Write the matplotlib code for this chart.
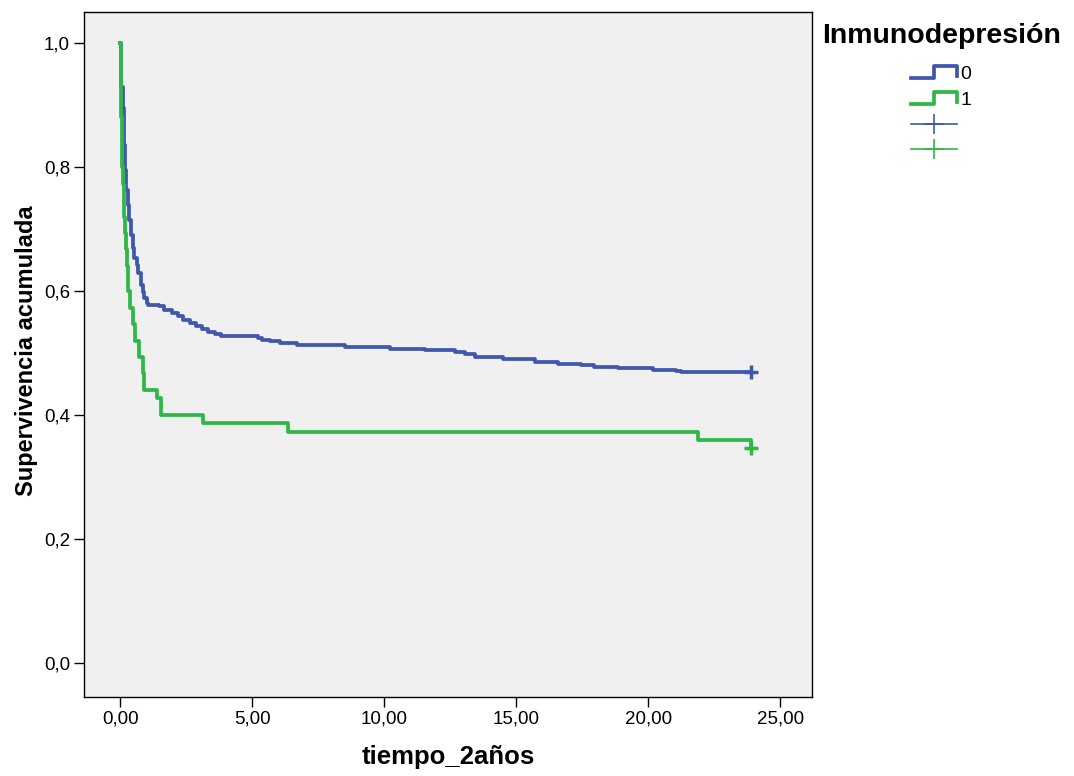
import matplotlib
matplotlib.use('Agg')
import matplotlib.pyplot as plt
from matplotlib.legend_handler import HandlerBase
from matplotlib.lines import Line2D

# Kaplan-Meier estimates (time, cumulative survival)
blue_t = [0, 0.04, 0.08, 0.13, 0.17, 0.23, 0.28, 0.34, 0.40, 0.46, 0.53, 0.61, 0.68,
          0.78, 0.84, 0.91, 0.99, 1.06, 1.48, 1.67, 1.94, 2.17, 2.39, 2.62, 2.85,
          3.08, 3.31, 3.57, 3.80, 5.20, 5.36, 5.66, 6.04, 6.69, 8.51, 10.22, 11.55,
          12.69, 13.07, 13.45, 14.51, 15.73, 16.57, 17.44, 17.93, 18.85, 20.17,
          21.05, 21.24, 23.9]
blue_s = [1.0, 0.929, 0.895, 0.835, 0.795, 0.763, 0.739, 0.715, 0.690, 0.669, 0.653,
          0.642, 0.629, 0.610, 0.598, 0.589, 0.581, 0.577, 0.575, 0.569, 0.565, 0.560,
          0.553, 0.548, 0.544, 0.539, 0.534, 0.531, 0.527, 0.524, 0.521, 0.519, 0.516,
          0.513, 0.510, 0.507, 0.505, 0.502, 0.498, 0.494, 0.490, 0.485, 0.482, 0.481,
          0.477, 0.476, 0.473, 0.471, 0.469, 0.469]

green_t = [0, 0.01, 0.02, 0.03, 0.05, 0.07, 0.10, 0.12, 0.15, 0.17, 0.20, 0.24, 0.28,
           0.38, 0.46, 0.57, 0.72, 0.84, 0.91, 1.37, 1.52, 3.12, 6.35, 21.9, 23.9]
green_s = [1.0, 0.947, 0.92, 0.88, 0.84, 0.80, 0.773, 0.747, 0.72, 0.693, 0.667, 0.64,
           0.60, 0.573, 0.547, 0.52, 0.493, 0.467, 0.44, 0.427, 0.40, 0.387, 0.373,
           0.36, 0.347]

# censored cases
blue_cens_t = [23.9]
blue_cens_s = [0.469]
green_cens_t = [23.9]
green_cens_s = [0.347]

groups = ['0', '1']
x_ticks = [0, 5, 10, 15, 20, 25]
x_tick_labels = ['0,00', '5,00', '10,00', '15,00', '20,00', '25,00']
y_ticks = [0.0, 0.2, 0.4, 0.6, 0.8, 1.0]
y_tick_labels = ['0,0', '0,2', '0,4', '0,6', '0,8', '1,0']

blue = '#3E58AC'
green = '#2EB848'

plt.rcParams['font.family'] = ['Liberation Sans', 'DejaVu Sans']

fig = plt.figure(figsize=(10.74, 7.76), dpi=100)
ax = fig.add_axes([84 / 1074, 1 - 697 / 776, 728 / 1074, 685 / 776])
ax.set_facecolor('#f0f0f0')

ax.step(blue_t, blue_s, where='post', color=blue, lw=2.7)
ax.step(green_t, green_s, where='post', color=green, lw=2.7)
ax.plot(blue_cens_t, blue_cens_s, '+', ms=10, mew=2.5, color=blue)
ax.plot(green_cens_t, green_cens_s, '+', ms=10, mew=2.5, color=green)

ax.set_xlim(-1.38, 26.21)
ax.set_ylim(-0.055, 1.05)
ax.set_xticks(x_ticks)
ax.set_xticklabels(x_tick_labels)
ax.set_yticks(y_ticks)
ax.set_yticklabels(y_tick_labels)
ax.tick_params(direction='out', length=7, width=1, labelsize=13.5, pad=3)
for sp in ax.spines.values():
    sp.set_linewidth(1)
    sp.set_color('black')

ax.set_xlabel('tiempo_2años', fontsize=18.5, fontweight='bold')
ax.xaxis.label.set_va('center')
ax.xaxis.set_label_coords(0.5, -0.0876)
ax.set_ylabel('Supervivencia acumulada', fontsize=17, fontweight='bold')
ax.yaxis.label.set_va('center')
ax.yaxis.set_label_coords(-0.0783, 0.505)


class StepIcon(HandlerBase):  # draws the little step shape used in the legend
    def create_artists(self, legend, orig_handle, xdescent, ydescent, width, height,
                       fontsize, trans):
        x0 = -xdescent
        y0 = -ydescent
        xs = [x0, x0 + width * 0.5, x0 + width * 0.5, x0 + width, x0 + width]
        ys = [y0, y0, y0 + height, y0 + height, y0 + 0.15 * height]
        line = Line2D(xs, ys, color=orig_handle.get_color(),
                      lw=orig_handle.get_linewidth(), transform=trans)
        return [line]


h0 = Line2D([], [], color=blue, lw=2.7)
h1 = Line2D([], [], color=green, lw=2.7)
h2 = Line2D([], [], color=blue, lw=1.2, marker='+', ms=14, mew=1.2)
h3 = Line2D([], [], color=green, lw=1.2, marker='+', ms=14, mew=1.2)

fig.legend([h0, h1, h2, h3], groups + ['', ''], loc='upper left',
           bbox_to_anchor=(911 / 1074, 1 - 66 / 776), frameon=False,
           handlelength=2.35, handleheight=0.6, handletextpad=0.2,
           labelspacing=0.44, fontsize=14, borderaxespad=0, borderpad=0,
           numpoints=1, handler_map={h0: StepIcon(), h1: StepIcon()})

fig.text(942 / 1074, 1 - 36 / 776, 'Inmunodepresión', fontsize=20.5,
         fontweight='bold', ha='center', va='center')

fig.savefig('out.png', dpi=100)
